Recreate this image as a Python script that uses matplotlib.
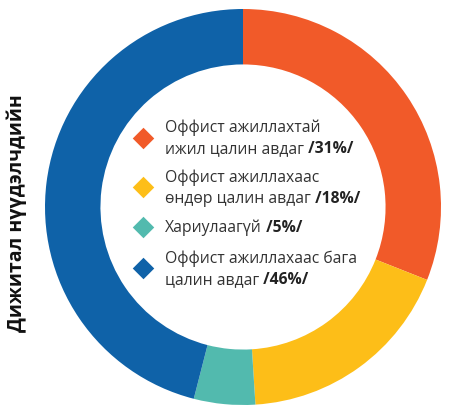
import matplotlib
matplotlib.use("Agg")
import matplotlib.pyplot as plt

plt.rcParams['font.family'] = ['Open Sans', 'DejaVu Sans']

labels = ["Оффист ажиллахтай\nижил цалин авдаг",
          "Оффист ажиллахаас\nөндөр цалин авдаг",
          "Хариулаагүй",
          "Оффист ажиллахаас бага\nцалин авдаг"]
values = [31, 18, 5, 46]
colors = ['#F15A29', '#FDBE18', '#52BAAE', '#0F62A8']
side_title = "Дижитал нүүдэлчдийн"

W, H = 456, 418
fig = plt.figure(figsize=(W / 100, H / 100), dpi=100)

# donut, centre ~ (243, 207) px, radius ~198 px
cx, cy, r = 243, 207, 198
ax = fig.add_axes([(cx - r) / W, (H - cy - r) / H, 2 * r / W, 2 * r / H])
ax.pie(values, colors=colors, startangle=90, counterclock=False,
       wedgeprops=dict(width=0.28, edgecolor='none'))
ax.set_xlim(-1, 1)
ax.set_ylim(-1, 1)
ax.set_aspect('equal')
ax.axis('off')

# legend drawn by hand inside the hole
leg = fig.add_axes([0, 0, 1, 1])
leg.set_xlim(0, W)
leg.set_ylim(H, 0)
leg.axis('off')

marker_y = [138, 187, 227, 268]
first_line_y = [128, 178, 228, 259]
line_h = 21
for i in range(len(labels)):
    leg.scatter(143, marker_y[i], marker='D', s=120, color=colors[i], lw=0)
    lines = labels[i].split('\n')
    for j, ln in enumerate(lines):
        t = leg.text(165, first_line_y[i] + j * line_h, ln, fontsize=11.3,
                     color='#333333', va='center', ha='left')
    leg.annotate(" /%d%%/" % values[i], xy=(1, 0.5), xycoords=t,
                 va='center', ha='left', fontsize=11.3, fontweight='bold',
                 color='#222222')

fig.text(17 / W, 1 - 213 / H, side_title, rotation=90, fontsize=14,
         fontweight='bold', color='#111111', ha='center', va='center')

fig.savefig("out.png", dpi=100)
